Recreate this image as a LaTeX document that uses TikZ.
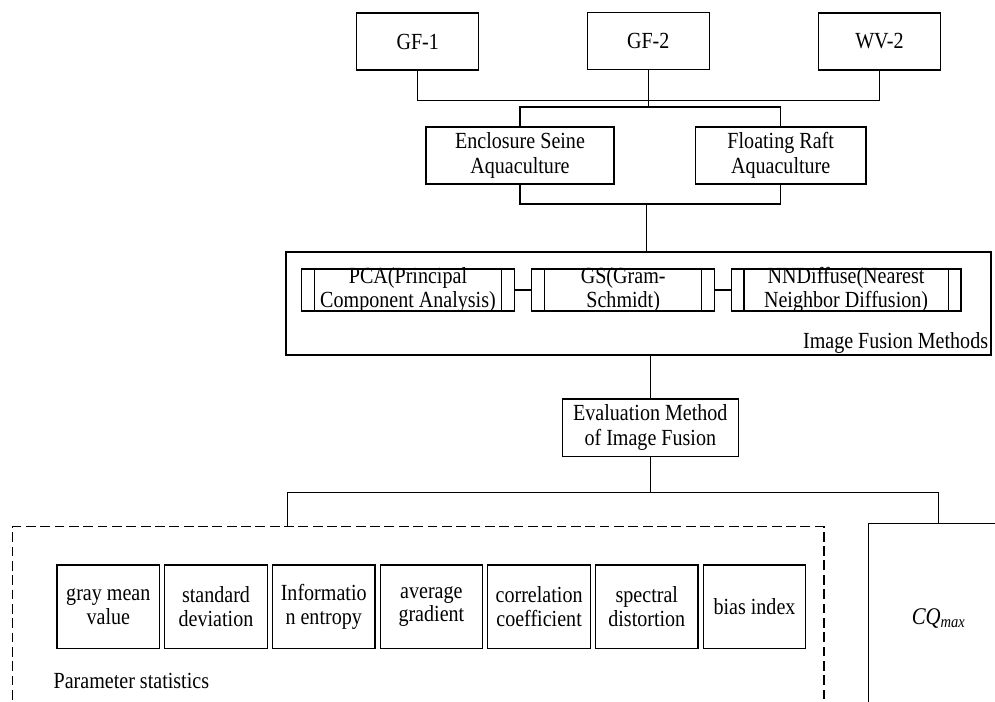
\documentclass[tikz,border=0pt]{standalone}
\usepackage{fontspec}
\setmainfont{Liberation Serif}[FakeStretch=0.87]
\usetikzlibrary{positioning}

\begin{document}
\begin{tikzpicture}[x=0.025cm, y=-0.025cm, line width=0.9pt,
  every node/.style={font=\fontsize{16.4pt}{17.8pt}\selectfont},
  box/.style={draw, align=center, inner sep=0pt},
  fusebox/.style={draw, align=center, inner xsep=0pt, inner ysep=-3pt, minimum height=1.05cm,
    font=\fontsize{16.4pt}{16.6pt}\selectfont,
    path picture={
      \draw ([xshift=0.32cm]path picture bounding box.north west) -- ([xshift=0.32cm]path picture bounding box.south west);
      \draw ([xshift=-0.32cm]path picture bounding box.north east) -- ([xshift=-0.32cm]path picture bounding box.south east);}},
  parambox/.style={draw, align=center, inner sep=0pt, minimum width=2.5625cm, minimum height=2.083cm,
    font=\fontsize{16.4pt}{16.6pt}\selectfont},
  plain/.style={inner sep=0pt}]

  \useasboundingbox (0,0) rectangle (995,702);
  \clip (0,0) rectangle (995,702);

  % Satellite images
  \node (gfone) at (417.7,41.5) [box, minimum width=3.05cm, minimum height=1.425cm] {GF-1};
  \node (gftwo) at (648.2,41) [box, minimum width=3.05cm, minimum height=1.425cm] {GF-2};
  \node (wvtwo) at (879.4,41.5) [box, minimum width=3.05cm, minimum height=1.425cm] {WV-2};

  % Aquaculture types
  \node (seine) at (520,155.5) [box, minimum width=4.7cm, minimum height=1.425cm] {Enclosure Seine\\Aquaculture};
  \node (raft) at (780.7,155.5) [box, minimum width=4.265cm, minimum height=1.425cm] {Floating Raft\\Aquaculture};

  % Image fusion methods
  \node (fusion) at (638.4,303.5) [box, minimum width=17.62cm, minimum height=2.575cm] {};
  \node (fusionlabel) [plain, anchor=east] at ([xshift=-0.07cm, yshift=0.315cm]fusion.south east) {Image Fusion Methods};
  \node (pca) at (408,290) [fusebox, minimum width=5.325cm] {PCA(Principal\\Component Analysis)};
  \node (gs) at (623.2,290) [fusebox, minimum width=4.57cm] {GS(Gram-\\Schmidt)};
  \node (nndiffuse) at (846.1,290) [fusebox, minimum width=5.745cm] {NNDiffuse(Nearest\\Neighbor Diffusion)};

  % Evaluation
  \node (evaluation) at (650.3,427.8) [box, minimum width=4.4cm, minimum height=1.44cm] {Evaluation Method\\of Image Fusion};

  % Parameter statistics
  \node (params) at (418.3,623.3) [draw, dash pattern=on 7pt off 3.2pt, minimum width=20.28cm, minimum height=4.83cm] {};
  \foreach \name/\txt [count=\i] in {gray/{gray mean\\value}, std/{standard\\deviation}, entropy/{Informatio\\n entropy},
      grad/{average\\gradient}, corr/{correlation\\coefficient}, dist/{spectral\\distortion}, bias/{bias index}}
    \node (\name) at ({108.3+(\i-1)*107.7},606.7) [parambox] {\txt};
  \node (paramslabel) at (53,681) [plain, anchor=west] {Parameter statistics};

  % CQ max
  \node (cq) at (938.7,618.2) [draw, minimum width=3.5cm, minimum height=4.745cm, font=\fontsize{17pt}{18pt}\selectfont] {\textit{CQ}\textsubscript{\textit{max}}};

  % satellites to aquaculture
  \coordinate (topbus) at (648.2,100.7);
  \coordinate (aquabus) at (648.2,107);
  \draw (gfone.south) |- (topbus) -| (wvtwo.south);
  \draw (gftwo.south) -- (aquabus);
  \draw (seine.north) |- (aquabus) -| (raft.north);

  % aquaculture to fusion
  \coordinate (midbus) at (646.7,204);
  \draw (seine.south) |- (midbus) -| (raft.south);
  \draw (midbus) -- (midbus |- fusion.north);
  \draw (pca.east) -- (gs.west);
  \draw (gs.east) -- (nndiffuse.west);

  % fusion to evaluation
  \draw (evaluation.north |- fusion.south) -- (evaluation.north);

  % evaluation to indices
  \coordinate (lowbus) at (650.3,492.7);
  \coordinate (paramstop) at (287.6,526.7);
  \draw (evaluation.south) -- (lowbus);
  \draw (paramstop) |- (lowbus) -| (cq.north);

\end{tikzpicture}
\end{document}
